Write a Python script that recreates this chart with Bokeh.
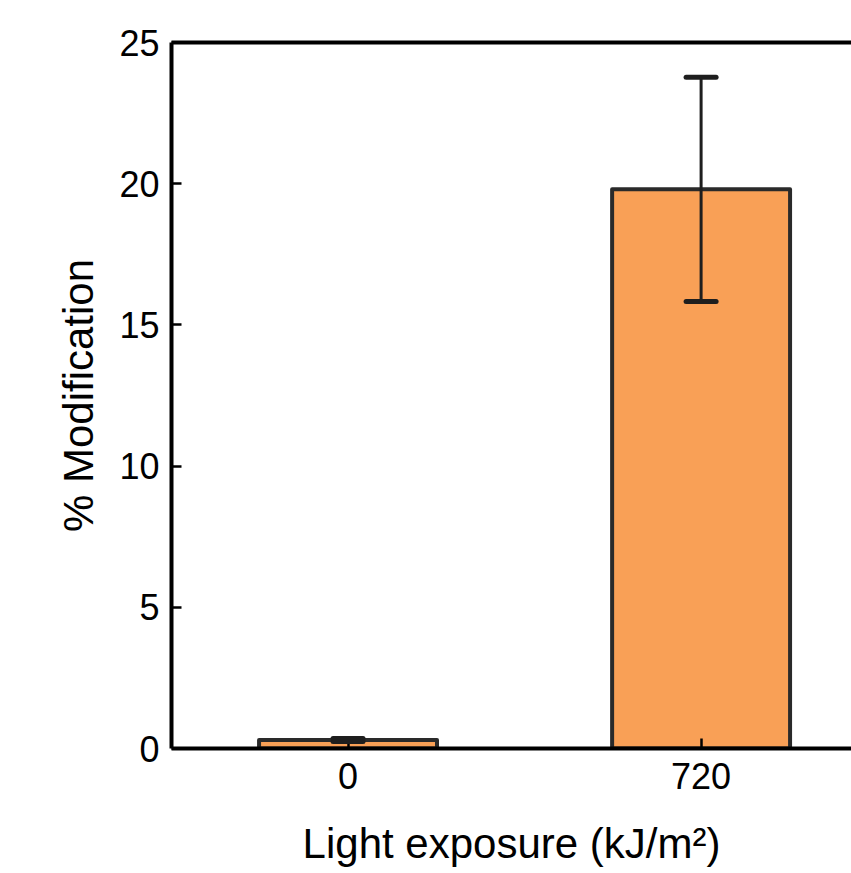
from bokeh.plotting import figure
from bokeh.models import (ColumnDataSource, Range1d, FixedTicker, LinearAxis,
                          Whisker, TeeHead)
from bokeh.embed import file_html
from bokeh.resources import INLINE

# Data
categories = ["0", "720"]
modification = [0.3, 19.8]
error = [0.05, 3.97]

x_pos = list(range(len(categories)))
lower = [m - e for m, e in zip(modification, error)]
upper = [m + e for m, e in zip(modification, error)]

src = ColumnDataSource(dict(x=x_pos, top=modification, lower=lower, upper=upper))

FONT = "Liberation Sans"

p = figure(width=851, height=873, output_backend="svg", toolbar_location=None,
           x_range=Range1d(-0.5, 1.426), y_range=Range1d(0, 25),
           min_border_left=171, min_border_right=0, min_border_top=42,
           min_border_bottom=125)
p.outline_line_color = None
p.xgrid.visible = False
p.ygrid.visible = False
p.background_fill_color = "white"
p.border_fill_color = "white"

p.vbar(x="x", top="top", bottom=0, width=0.504, source=src,
       fill_color="#F9A056", line_color="#2a2a2a", line_width=4,
       line_join="round")

w = Whisker(base="x", lower="lower", upper="upper", source=src,
            line_color="#1e1e1e", line_width=3, level="overlay",
            upper_head=TeeHead(size=30, line_width=5, line_color="#1e1e1e", line_cap="round"),
            lower_head=TeeHead(size=30, line_width=5, line_color="#1e1e1e", line_cap="round"))
p.add_layout(w)

# x axis
xa = p.xaxis[0]
xa.ticker = FixedTicker(ticks=x_pos)
xa.major_label_overrides = {i: c for i, c in zip(x_pos, categories)}
xa.axis_label = "Light exposure (kJ/m²)"

# y axis
ya = p.yaxis[0]
ya.ticker = FixedTicker(ticks=[0, 5, 10, 15, 20, 25])
ya.axis_label = "% Modification"

for ax in (xa, ya):
    ax.axis_line_width = 4
    ax.axis_line_color = "black"
    ax.major_tick_in = 10
    ax.major_tick_out = 0
    ax.major_tick_line_width = 2.5
    ax.major_tick_line_color = "black"
    ax.minor_tick_line_color = None
    ax.major_label_text_font = FONT
    ax.major_label_text_font_size = "36px"
    ax.major_label_text_color = "black"
    ax.axis_label_text_font = FONT
    ax.axis_label_text_font_size = "42px"
    ax.axis_label_text_font_style = "normal"
    ax.axis_label_text_color = "black"

xa.major_label_standoff = 14
xa.axis_label_standoff = 28
ya.major_label_standoff = 12
ya.axis_label_standoff = 14

# top border
top = LinearAxis(ticker=FixedTicker(ticks=[]), axis_line_width=4,
                 axis_line_color="black", major_label_text_font_size="0px",
                 major_tick_line_color=None, minor_tick_line_color=None)
p.add_layout(top, "above")

open("out.html", "w").write(file_html(p, INLINE))
